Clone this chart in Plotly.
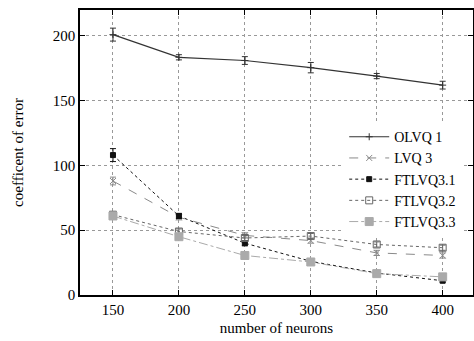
import plotly.graph_objects as go

neurons = [150, 200, 250, 300, 350, 400]

olvq1 = [201, 183.5, 181, 175.5, 169, 162]
olvq1_err = [5, 2, 3, 4, 2, 3]
lvq3 = [88, 60, 46, 42, 32.5, 30.5]
lvq3_err = [3, 2, 2, 2, 2, 2]
ftlvq31 = [108, 61, 40, 26, 17, 11]
ftlvq31_err = [5, 2, 2, 2, 2, 1]
ftlvq32 = [62, 49, 44, 45.5, 39, 36.5]
ftlvq32_err = [2, 2, 2, 2, 2, 2]
ftlvq33 = [61, 45, 30.5, 25.5, 16.5, 14]
ftlvq33_err = [2, 2, 2, 2, 2, 2]

series = [
    ("OLVQ 1", olvq1, olvq1_err, "#333333", "solid", "cross-thin", 5, 1.2),
    ("LVQ 3", lvq3, lvq3_err, "#8a8a8a", "dash", "x-thin", 6, 1.0),
    ("FTLVQ3.1", ftlvq31, ftlvq31_err, "#111111", "dot", "square", 5, 1.0),
    ("FTLVQ3.2", ftlvq32, ftlvq32_err, "#666666", "dot", "square-open", 7, 1.0),
    ("FTLVQ3.3", ftlvq33, ftlvq33_err, "#aaaaaa", "dashdot", "square", 8, 1.0),
]

fig = go.Figure()
for name, ys, errs, color, dash, sym, size, w in series:
    fig.add_trace(go.Scatter(
        x=neurons, y=ys, name=name, mode="lines+markers",
        line=dict(color=color, dash=dash, width=w),
        marker=dict(symbol=sym, size=size, color=color,
                    line=dict(color=color, width=1)),
        error_y=dict(type="data", array=errs, visible=True,
                     color=color, thickness=1, width=3),
    ))

font_family = "Times New Roman, Liberation Serif, serif"
axis_common = dict(
    showline=True, linecolor="black", linewidth=1.5, mirror="ticks",
    ticks="inside", ticklen=5, tickcolor="black",
    showgrid=True, gridcolor="#999999", griddash="dot", gridwidth=1,
    zeroline=False, automargin=False,
    tickfont=dict(family=font_family, size=15, color="black"),
)

fig.update_layout(
    width=474, height=341,
    margin=dict(l=80, r=1, t=10, b=46),
    paper_bgcolor="white", plot_bgcolor="white",
    font=dict(family=font_family, size=15, color="black"),
    xaxis=dict(range=[125, 423], tickvals=[150, 200, 250, 300, 350, 400],
               title=dict(text="number of neurons", standoff=6,
                          font=dict(family=font_family, size=15)),
               **axis_common),
    yaxis=dict(range=[0, 220], tickvals=[0, 50, 100, 150, 200],
               title=dict(text="coefficent of error", standoff=26,
                          font=dict(family=font_family, size=15)),
               **axis_common),
    legend=dict(x=0.97, y=0.61, xanchor="right", yanchor="top",
                bgcolor="white", borderwidth=0,
                font=dict(family=font_family, size=14),
                tracegroupgap=0, itemwidth=40),
    showlegend=True,
)

fig.write_html("out.html",
               config={"displayModeBar": False},
               post_script="document.body.style.margin='0';document.body.style.overflow='hidden';")
